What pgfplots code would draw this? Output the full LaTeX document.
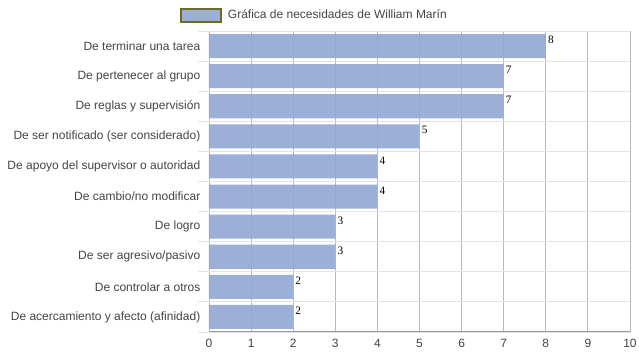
\documentclass[border=0pt]{standalone}
\usepackage{pgfplots}
\pgfplotsset{compat=1.18}
\usepackage{fontspec}
\setmainfont{Liberation Sans}
\newfontfamily\serifnum{Liberation Serif}
\definecolor{barblue}{HTML}{94A9D4}
\definecolor{legborder}{HTML}{6B6B22}
\definecolor{txtgray}{HTML}{444444}
\begin{document}
\begin{tikzpicture}
\path[use as bounding box] (-156.75pt,-21pt) rectangle (322.5pt,249pt);
\begin{axis}[
  at={(0,0)}, anchor=south west,
  scale only axis,
  width=315.75pt, height=225.75pt,
  xmin=0, xmax=10,
  ymin=-0.5, ymax=9.5,
  xtick={0,1,...,10},
  ytick={0,1,...,9},
  yticklabels={De acercamiento y afecto (afinidad),De controlar a otros,De ser agresivo/pasivo,De logro,De cambio/no modificar,De apoyo del supervisor o autoridad,De ser notificado (ser considerado),De reglas y supervisión,De pertenecer al grupo,De terminar una tarea},
  minor ytick={-0.5,0.5,...,9.5},
  axis x line*=bottom,
  axis y line*=left,
  y axis line style={draw=none},
  x axis line style={draw=gray!80, line width=0.75pt},
  xmajorgrids,
  yminorgrids,
  major grid style={draw=gray!55, line width=0.6pt},
  minor grid style={draw=gray!22, line width=0.6pt},
  major tick length=0pt,
  minor tick length=8pt,
  tick align=outside,
  minor tick style={draw=gray!22, line width=0.6pt},
  ticklabel style={font=\fontsize{9}{10}\selectfont, text=txtgray},
  xticklabel style={yshift=-2pt},
  yticklabel style={xshift=-3pt},
  /pgf/number format/assume math mode=true,
  xbar,
  bar width=0.8,
  bar shift=0pt,
  nodes near coords,
  every node near coord/.append style={font=\serifnum\fontsize{8.5}{9}\selectfont, text=black, anchor=west, inner sep=1pt, yshift=4.5pt, xshift=0.5pt},
  legend style={at={(0.5,1)}, anchor=south, yshift=3.5pt, xshift=-78.5pt, draw=none, fill=none, font=\fontsize{9}{10}\selectfont, text=txtgray, legend cell align=left},
  legend image code/.code={\draw[fill=barblue, draw=legborder, line width=1.5pt] (0pt,-5pt) rectangle (29.5pt,5pt); \path (0pt,0pt) -- (33pt,0pt);},
]
\addplot[fill=barblue, draw=none, fill opacity=0.92, text opacity=1] coordinates {
(2,0) (2,1) (3,2) (3,3) (4,4) (4,5) (5,6) (7,7) (7,8) (8,9)
};
\addlegendentry{Gráfica de necesidades de William Marín}
\end{axis}
\end{tikzpicture}
\end{document}
